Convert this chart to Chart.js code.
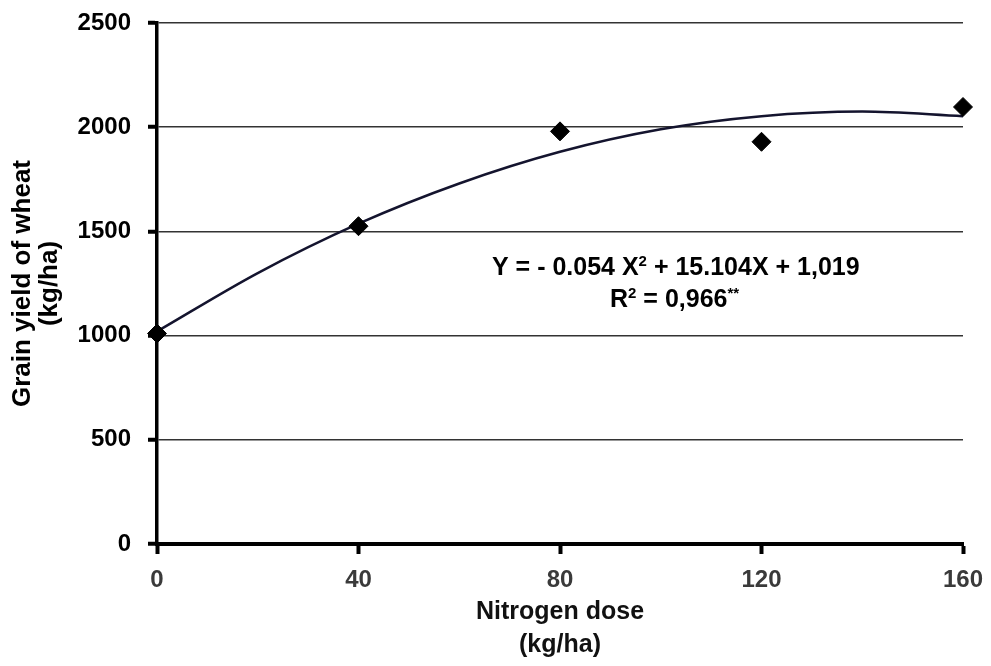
<!DOCTYPE html>
<html>
<head>
<meta charset="utf-8">
<script src="https://cdn.jsdelivr.net/npm/chart.js@4.4.0/dist/chart.umd.min.js"></script>
<style>
  html, body { margin: 0; padding: 0; background: #fff; }
  #wrap { width: 991px; height: 666px; position: relative; }
</style>
</head>
<body>
<div id="wrap"><canvas id="yieldChart"></canvas></div>
<script>
// measured points
var doses = [0, 40, 80, 120, 160];
var yields = [1010, 1525, 1980, 1930, 2097];

// fitted curve
var curveX = [0, 20, 40, 60, 80, 100, 120, 140, 160];
var curveY = [1020, 1300, 1537, 1730, 1882, 1990, 2053, 2075, 2053];

var yTicks = [0, 500, 1000, 1500, 2000, 2500];
var xTicks = [0, 40, 80, 120, 160];

var FONT = "'Liberation Sans', Arial, sans-serif";

// equation text drawn inside the plot
var eqPlugin = {
    id: 'equation',
    afterDraw: function(chart) {
        var c = chart.ctx;
        c.save();
        c.fillStyle = '#000';
        c.textBaseline = 'alphabetic';
        var big = 'bold 25px ' + FONT;
        var small = 'bold 15px ' + FONT;
        function seq(parts, x, y) {
            parts.forEach(function(p) {
                c.font = p[1] ? small : big;
                c.fillText(p[0], x, y - (p[1] ? 9 : 0));
                x += c.measureText(p[0]).width;
            });
        }
        seq([['Y = - 0.054 X', 0], ['2', 1], [' + 15.104X + 1,019', 0]], 492, 275);
        seq([['R', 0], ['2', 1], [' = 0,966', 0], ['**', 1]], 610, 307);
        c.restore();
    }
};

var ctx = document.getElementById('yieldChart').getContext('2d');
var chart = new Chart(ctx, {
    type: 'scatter',
    data: {
        datasets: [{
            label: 'Fit',
            type: 'line',
            data: curveX.map(function(x, i) { return {x: x, y: curveY[i]}; }),
            borderColor: '#14142e',
            borderWidth: 2.5,
            pointRadius: 0,
            tension: 0.4,
            cubicInterpolationMode: 'monotone',
            fill: false,
            clip: false,
            order: 2
        }, {
            label: 'Grain yield',
            data: doses.map(function(x, i) { return {x: x, y: yields[i]}; }),
            pointStyle: 'rectRot',
            pointRadius: 9.5,
            backgroundColor: '#000',
            borderColor: '#000',
            clip: false,
            order: 1
        }]
    },
    options: {
        responsive: true,
        maintainAspectRatio: false,
        animation: false,
        layout: { padding: { left: 0, right: 28, top: 23, bottom: 0 } },
        plugins: {
            legend: { display: false },
            tooltip: { enabled: false }
        },
        scales: {
            x: {
                type: 'linear',
                min: 0,
                max: 160,
                afterBuildTicks: function(s) { s.ticks = xTicks.map(function(v) { return {value: v}; }); },
                afterFit: function(s) { s.height = 122; s.paddingLeft = 0; s.paddingRight = 0; },
                border: { color: '#000', width: 4 },
                grid: { drawOnChartArea: false, drawTicks: true, tickLength: 10, tickWidth: 4, tickColor: '#000' },
                ticks: {
                    color: '#3a3a3a',
                    font: { family: FONT, size: 24, weight: 'bold' },
                    padding: 12,
                    maxRotation: 0,
                    callback: function(v) { return String(v); }
                },
                title: {
                    display: true,
                    text: ['Nitrogen dose', '(kg/ha)'],
                    color: '#111',
                    font: { family: FONT, size: 25, weight: 'bold', lineHeight: 1.3 },
                    padding: { top: 0, bottom: 5 }
                }
            },
            y: {
                min: 0,
                max: 2500,
                afterBuildTicks: function(s) { s.ticks = yTicks.map(function(v) { return {value: v}; }); },
                afterFit: function(s) { s.width = 157; s.paddingTop = 0; s.paddingBottom = 0; },
                border: { color: '#000', width: 3.5 },
                grid: { color: '#333', lineWidth: 1.5, drawTicks: true, tickLength: 9, tickWidth: 4, tickColor: '#000' },
                ticks: {
                    color: '#000',
                    font: { family: FONT, size: 24, weight: 'bold' },
                    padding: 17,
                    callback: function(v) { return String(v); }
                },
                title: {
                    display: true,
                    text: ['Grain yield of wheat', '(kg/ha)'],
                    color: '#000',
                    font: { family: FONT, size: 26, weight: 'bold', lineHeight: 1.05 },
                    padding: { top: 9, bottom: 0 }
                }
            }
        }
    },
    plugins: [eqPlugin]
});
</script>
</body>
</html>
